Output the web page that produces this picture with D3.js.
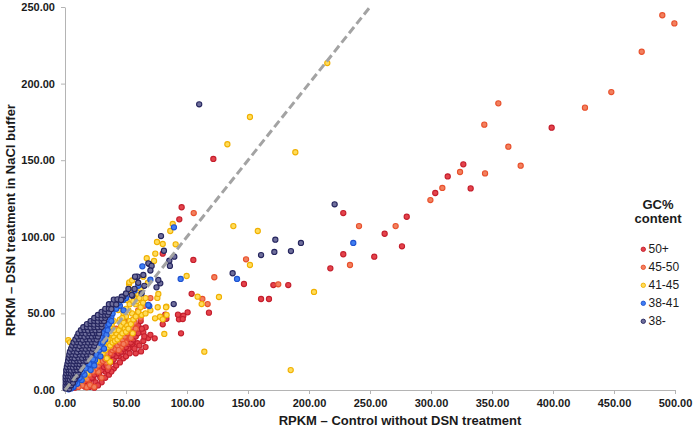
<!DOCTYPE html>
<html><head><meta charset="utf-8">
<script src="https://cdn.jsdelivr.net/npm/d3@7/dist/d3.min.js"></script>
<style>body{margin:0;background:#fff}svg{display:block;font-family:"Liberation Sans",Arial,sans-serif}</style>
</head><body><svg id="c" width="695" height="436"></svg>
<script>
// ---- data ----
const seriesNames = ["50+","45-50","41-45","38-41","38-"];
const xTicks = [0,50,100,150,200,250,300,350,400,450,500];
const yTicks = [0,50,100,150,200,250];
const diagonal = [[0,0],[250,250]];

const gc50plus = [[398.9,171.2],[326.5,147.3],[313.7,139.4],[303.5,128.6],[332.5,131.6],[280.1,113.1],[262.0,102.0],[276.2,93.8],[253.5,87.0],[228.1,115.5],[228.1,88.6],[217.5,79.4],[170.8,68.5],[183.0,68.5],[160.7,59.4],[167.2,59.4],[121.6,150.8],[95.6,119.3],[93.7,111.4],[80.1,89.0],[105.2,84.9],[146.7,69.2],[103.8,62.8],[118.0,50.5],[100.5,50.7],[97.0,48.5],[93.4,46.1],[92.6,49.2],[96.5,46.3],[82.2,49.2],[83.1,46.5],[80.1,42.9],[95.1,37.0],[73.5,33.7],[68.2,33.9],[66.1,40.9],[64.2,37.5],[64.2,32.0],[62.3,25.2],[59.5,30.5],[55.0,28.0],[49.2,34.8],[50.6,30.5],[45.1,26.1],[41,24],[38.3,18.5],[30,18.5],[26,10.9],[23.2,7.6],[19.1,5.4],[15,3.3],[54.6,38.1],[53.3,32.6],[47.8,20.7],[44,22],[35,15],[33,12],[28,14],[22,10],[18,8],[12,4],[10,2],[8,1.5],[25,5],[20,2],[42,30],[46,31],[52,27],[56,35],[58.7,49],[56,46],[50.6,44.6],[52,42],[60,42],[62,45],[40,14],[36,20],[31,22],[45,36],[58,24],[48,25],[40,28],[16.4,2.2],[55,30],[70,36],[66,28],
[20,6],[22,8],[24,10],[26,12],[28,10],[30,13],[32,15],[34,16],[36,17],[38,19],[40,20],[42,22],[44,24],[46,25],[48,27],[50,28],[52,30],[54,31],[56,33],[58,35],[60,37],[30,5],[27,3],[24,1.5],[33,8],[36,10],[38,12],[42,16],[45,18],[50,22],[53,24],[57,27],[61,29],[65,35],[63,40],[35,13],[29,8],[47,29],[43,27],[39,23],[34,19],[51,33],[55,37]];

const gc45to50 = [[489.6,244.6],[499.5,239.3],[472.7,220.8],[447.8,194.5],[426.2,184.3],[355.2,187.1],[343.7,173.2],[363.4,158.8],[373.5,146.4],[323.8,142.3],[309.3,131.9],[299.5,124.0],[344.3,141.4],[271.0,107.0],[241.0,107.0],[233.6,81.6],[174.8,69.0],[105.5,115.5],[148.4,85.3],[122.4,73.6],[112.6,59.4],[116.9,56.1],[53.3,41.3],[35.5,15.2],[27.3,11.9],[17.8,1.8],[20.5,3.3],[47.8,45.7],[49.7,30.9],[44,38],[40,33],[38,30],[33,25],[30,20],[25,16],[22,13],[15,6],[12,5],[42,40],[57,44],[60,52],[65,55],[70,60],[52,36],[46,28],[36,26],[30,8],[24,2],[34,18],
[25,14],[27,16],[29,18],[31,19],[33,20],[35,22],[37,24],[39,26],[41,27],[43,29],[45,31],[47,33],[49,35],[51,37],[53,39],[55,41],[20,10],[18,7],[23,12],[42,34],[38,28],[34,24],[44,26],[48,30],[54,34],[58,40],[62,47],[14,3],[11,2]];

const gc41to45 = [[215.0,213.4],[151.6,178.2],[133.1,160.4],[188.8,155.2],[158.0,103.8],[151.6,81.6],[204.1,64.0],[185,13],[138.0,107.0],[88.3,108.4],[86.3,103.8],[75.4,96.6],[80.1,95.3],[90.7,95.1],[74.0,89.0],[67.0,86.0],[73.0,84.2],[99.7,74.4],[64.2,74.0],[52.5,69.2],[108.7,60.9],[112.0,56.1],[126.2,60.7],[114.2,25.0],[75.7,60.1],[83.1,54.4],[76.0,54.0],[77.9,47.8],[81.4,36.6],[55.5,37.0],[76.5,62.7],[82.8,54],[83.3,49],[80.1,46.1],[53.3,65.3],[50.6,58.7],[62.8,49],[73.8,46.8],[66,50],[70,52],[58,56],[60,62],[2.7,32.6],[4.1,31.1],[38.3,42.4],[41,37],[43.7,34.8],[36.9,18.5],[34.2,20.7],[46.5,41.3],[43.7,52.2],[48,50],[45,46],[40,45],[38,40],[35,36],[32,30],[28,26],[26,22],[30,25],[20,14],[18,12],[14,9],[10,6],[55,50],[52,52],[50,48],[57,60],[62,66],[68,70],[52.7,70.3],[55,71.5],
[30,27],[32,28],[34,30],[36,31],[38,33],[40,35],[42,37],[44,39],[46,42],[48,44],[31,24],[33,26],[35,28],[37,29],[39,31],[41,32],[43,33],[45,35],[47,37],[49,40],[51,42],[53,45],[28,22],[26,19],[24,17],[22,15],[20,13],[18,11],[16,9],[14,7],[12,6],[50,38],[52,40],[54,43],[56,46],[58,48],[60,51],[62,54],[64,57],[66,60],[47,47],[50,53],[53,56],[56,58],[59,58],[61,60],[35,33],[38,37],[40,39]];

const gc38to41 = [[236.3,96.0],[89.3,106.2],[141.0,72.5],[94.8,72.5],[63.4,80.7],[69.1,54.8],[68.3,55.5],[40.2,57.6],[34.2,52.2],[41,57.6],[47.8,58.7],[32.8,50],[26,44.6],[32.8,39.2],[30,34.8],[27.3,26.1],[24.6,19.6],[19.1,15.2],[13.7,6.5],[10,4],[7,2],[5,1],[16,10],[22,17],[25,24],[29,30],[31,37],[35,42],[38,48],[45,55],[50,60],[57,65],[60,68],[36,46],[28,40],[20,22],[18,18],[12,8],[3,0.5],[8,5],[70,72],[48,52],
[4,3],[6,5],[9,7],[11,10],[14,12],[17,14],[20,17],[23,20],[26,23],[28,26],[30,28],[31,31],[33,33],[34,36],[35,39],[36,43],[38,45],[39,50],[42,53],[44,57],[29,22],[32,27],[24,16],[21,13]];

const gc38minus = [[221.0,121.2],[193.4,96.0],[185.2,90.7],[172.4,98.1],[171.6,90.1],[160.7,88.1],[137.4,76.2],[78.7,100.5],[81.1,90.9],[89.6,87.0],[85.5,84.4],[86,81],[69.1,82.2],[68.3,82.7],[71,81],[70,78],[58.8,73.8],[64.2,75.1],[59.5,74],[78.1,69.6],[76.5,71.8],[75,67],[62.8,63.1],[55.2,61.6],[54.7,62],[47.8,60.9],[89.1,56.1],[65,68],[60,70],[57,66],[110,186.5],[46.5,60.9],[57.4,74],[50,63],[52,66],[8.2,29.4],[9.6,24],[12.3,29.4],[19.1,41.3],
[0.5,1],[2,1.2],[3.5,0.8],
[0.5,3],[2,3.2],[3.5,2.8],[5,3.1],
[0.6,5],[2.1,5.2],[3.6,4.9],[5.1,5.1],[6.5,4.8],
[0.5,7],[2.2,7.2],[4,6.8],[6,7.1],[8,7],
[0.5,9],[2.5,9.2],[4.5,8.8],[6.5,9.1],[8.5,9],[10,9.3],
[1,11],[3,11.2],[5,10.8],[7,11.1],[9,11],[11,11.3],
[1,13],[3,13.2],[5,12.8],[7.5,13.1],[10,13],[12.5,13.2],
[1.5,15],[4,15.2],[6.5,14.8],[9,15.1],[11.5,15],[14,15.3],
[2,17],[4.5,17.2],[7,16.8],[9.5,17.1],[12,17],[14.5,17.2],
[2.5,19],[5,19.2],[7.5,18.8],[10,19.1],[12.5,19],[15,19.2],[17.5,18.9],
[3,21],[5.5,21.2],[8,20.8],[11,21.1],[14,21],[17,21.2],[19,20.9],
[3.5,23],[6,23.2],[9,22.8],[12,23.1],[15,23],[18,23.2],[21,22.9],
[4,25],[7,25.2],[10,24.8],[13,25.1],[16,25],[19,25.2],[22,24.9],
[5,27],[8,27.2],[11,26.8],[14,27.1],[17,27],[20,27.2],[23,26.9],
[6,29],[9,29.2],[12,28.8],[15,29.1],[18,29],[21,29.2],[24,28.9],
[7,31],[10,31.2],[13,30.8],[16,31.1],[19,31],[22,31.2],[25,30.9],
[8.5,33],[11.5,33.2],[14.5,32.8],[17.5,33.1],[20.5,33],[23.5,33.2],[26,32.9],
[10,35],[13,35.2],[16,34.8],[19,35.1],[22,35],[25,35.2],[27,34.9],
[11,37],[14,37.2],[17,36.8],[20,37.1],[23,37],[26,37.2],[28,36.9],
[13,39],[16,39.2],[19,38.8],[22,39.1],[25,39],[28,39.2],
[15,41],[18,41.2],[21,40.8],[24,41.1],[27,41],[30,41.2],
[18,43],[21,43.2],[24,42.8],[27,43.1],[30,43],
[21,45],[24,45.2],[27,44.8],[30,45.1],[32,45],
[24,47],[27,47.2],[30,46.8],[33,47.1],
[27,49],[30,49.2],[33,48.8],[35,49.1],
[30,51],[33,51.2],[36,50.8],
[33,53],[36,53.2],[38,52.8],
[36,56],[39,56.2],[42,55.8],
[40,59],[43,59.2],[46,58.8]];

const seriesData = [gc50plus, gc45to50, gc41to45, gc38to41, gc38minus];
const fills   = ["#e4434b","#f2805e","#ffdc5a","#3f7ef2","#6f6f9c"];
const strokes = ["#c41e2c","#e8502c","#f0b000","#1f52d0","#25255e"];

// ---- chart ----
const svg = d3.select("#c");
const x = d3.scaleLinear().domain([0,500]).range([65,675]);
const y = d3.scaleLinear().domain([0,250]).range([390,7]);
const fmt = d3.format(".2f");

const xAxis = svg.append("g").attr("transform","translate(0,390)")
  .call(d3.axisBottom(x).tickValues(xTicks).tickFormat(fmt).tickSize(4).tickSizeOuter(0));
const yAxis = svg.append("g").attr("transform","translate(65,0)")
  .call(d3.axisLeft(y).tickValues(yTicks).tickFormat(fmt).tickSize(4).tickSizeOuter(0));
[xAxis,yAxis].forEach(g=>{
  g.select(".domain").attr("stroke","#b4b4b4");
  g.selectAll(".tick line").attr("stroke","#b4b4b4");
  g.selectAll("text").attr("font-size",11).attr("font-weight","bold").attr("fill","#1a1a1a")
   .attr("font-family","Liberation Sans, Arial, sans-serif");
});
xAxis.selectAll("text").attr("dy","0").attr("y",17);
yAxis.selectAll("text").attr("x",-10);

const g = svg.append("g");
seriesData.forEach((data,i)=>{
  g.append("g").selectAll("circle").data(data).join("circle")
    .attr("cx",d=>x(d[0])).attr("cy",d=>y(d[1])).attr("r",2.6)
    .attr("fill",fills[i]).attr("stroke",strokes[i]).attr("stroke-width",1.1);
});

svg.append("line")
  .attr("x1",x(diagonal[0][0])).attr("y1",y(diagonal[0][1]))
  .attr("x2",x(diagonal[1][0])).attr("y2",y(diagonal[1][1]))
  .attr("stroke","#a3a3a3").attr("stroke-width",3).attr("stroke-dasharray","8,4");

svg.append("text").attr("transform","translate(15,220) rotate(-90)")
  .attr("text-anchor","middle").attr("font-size",13).attr("font-weight","bold").attr("fill","#1a1a1a")
  .text("RPKM – DSN treatment in NaCl buffer");
svg.append("text").attr("x",400).attr("y",425)
  .attr("text-anchor","middle").attr("font-size",13).attr("font-weight","bold").attr("fill","#1a1a1a")
  .text("RPKM – Control without DSN treatment");

// legend
const lg = svg.append("g");
lg.append("text").attr("x",658).attr("y",209).attr("text-anchor","middle")
  .attr("font-size",13).attr("font-weight","bold").attr("fill","#1a1a1a").text("GC%");
lg.append("text").attr("x",658).attr("y",223).attr("text-anchor","middle")
  .attr("font-size",13).attr("font-weight","bold").attr("fill","#1a1a1a").text("content");
seriesNames.forEach((n,i)=>{
  const yy = 249.3 + i*18;
  lg.append("circle").attr("cx",643.3).attr("cy",yy).attr("r",2.2)
    .attr("fill",fills[i]).attr("stroke",strokes[i]).attr("stroke-width",0.9);
  lg.append("text").attr("x",648.5).attr("y",yy+4).attr("font-size",12).attr("fill","#1a1a1a").text(n);
});
</script></body></html>
